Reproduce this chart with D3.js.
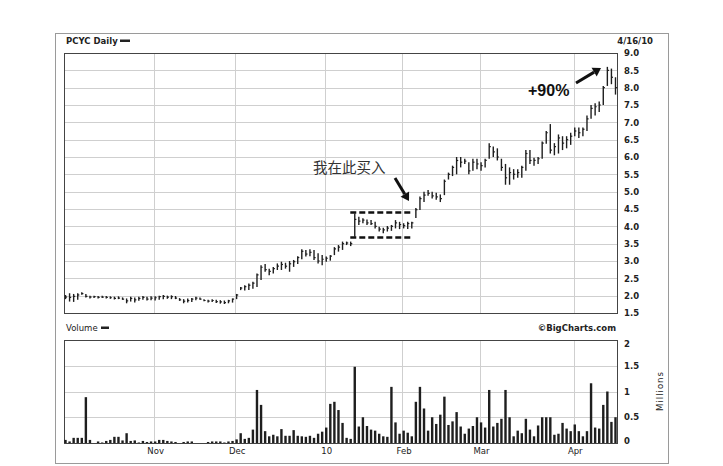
<!DOCTYPE html>
<html><head><meta charset="utf-8">
<script src="https://cdn.jsdelivr.net/npm/d3@7/dist/d3.min.js"></script>
<style>
html,body{margin:0;padding:0;background:#fff;}
svg{display:block;}
.lbl{font-family:"DejaVu Sans",sans-serif;font-weight:bold;font-size:8.5px;fill:#222;}
</style></head>
<body>
<svg id="c" width="723" height="466"></svg>
<script>
// ---- data (trading days Oct 1 2009 .. Apr 16 2010) ----
const highs = [2.02,2.07,2.05,2.07,2.10,2.05,2.00,2.00,1.99,2.00,1.99,1.98,1.97,1.98,1.95,1.92,1.97,1.95,1.97,1.99,1.97,1.98,
1.98,2.00,2.02,2.00,2.01,1.99,1.93,1.90,1.92,1.93,1.97,1.95,1.90,1.88,1.90,1.88,1.87,1.86,1.88,1.92,
2.05,2.25,2.30,2.35,2.40,2.64,2.88,2.91,2.78,2.83,2.93,2.98,2.95,3.00,3.03,3.14,3.34,3.32,3.34,3.32,3.22,3.17,
3.13,3.17,3.40,3.46,3.56,3.56,3.56,4.37,4.28,4.23,4.20,4.18,4.13,3.99,3.96,4.01,4.04,4.18,4.13,
4.09,4.13,4.13,4.53,4.86,5.00,5.05,5.00,4.97,4.92,5.35,5.55,5.75,6.00,6.00,5.95,5.85,5.95,5.95,
5.85,5.95,6.40,6.30,6.25,5.95,5.80,5.70,5.65,5.65,5.75,6.20,6.20,5.98,6.00,6.45,6.75,6.95,6.40,6.65,6.60,6.60,6.70,
6.85,6.85,6.85,7.20,7.50,7.55,7.60,8.05,8.60,8.55,8.30];
const lows = [1.90,1.83,1.82,1.88,2.03,1.95,1.92,1.93,1.92,1.93,1.92,1.91,1.89,1.90,1.88,1.78,1.83,1.80,1.85,1.88,1.86,1.87,
1.86,1.88,1.90,1.91,1.90,1.90,1.85,1.78,1.80,1.82,1.87,1.88,1.84,1.80,1.82,1.79,1.77,1.76,1.78,1.80,
1.90,2.16,2.15,2.16,2.20,2.25,2.45,2.69,2.59,2.64,2.74,2.74,2.78,2.69,2.83,2.91,3.05,3.13,3.14,3.03,2.93,2.88,
2.98,3.01,3.17,3.27,3.32,3.46,3.43,3.70,4.04,4.09,4.04,4.04,3.94,3.85,3.80,3.85,3.87,3.94,3.92,
3.94,3.92,3.94,4.24,4.47,4.70,4.88,4.80,4.77,4.70,4.90,5.35,5.45,5.50,5.70,5.80,5.50,5.60,5.65,
5.60,5.70,5.95,6.00,5.90,5.60,5.20,5.20,5.35,5.40,5.40,5.60,5.80,5.75,5.80,5.95,6.38,6.10,6.05,6.10,6.20,6.25,6.35,
6.60,6.55,6.60,6.75,7.10,7.20,7.30,7.50,8.05,8.10,7.80];
const closes = [1.96,1.95,1.98,2.02,2.06,1.98,1.96,1.97,1.95,1.96,1.95,1.94,1.92,1.93,1.90,1.85,1.92,1.88,1.92,1.95,1.90,1.93,
1.94,1.97,1.98,1.96,1.97,1.93,1.88,1.84,1.86,1.90,1.93,1.90,1.86,1.84,1.86,1.83,1.82,1.80,1.85,1.90,
2.02,2.22,2.26,2.30,2.36,2.60,2.82,2.75,2.70,2.78,2.85,2.90,2.85,2.92,2.98,3.10,3.28,3.20,3.25,3.10,3.00,3.05,
3.08,3.14,3.35,3.40,3.50,3.52,3.50,4.20,4.15,4.18,4.10,4.08,4.00,3.92,3.90,3.95,4.00,4.10,4.05,
4.02,4.08,4.10,4.48,4.80,4.90,4.95,4.88,4.85,4.80,5.30,5.50,5.70,5.90,5.85,5.88,5.60,5.85,5.80,
5.75,5.90,6.30,6.15,6.00,5.70,5.40,5.55,5.50,5.55,5.70,6.10,5.90,5.90,5.95,6.40,6.70,6.20,6.30,6.55,6.40,6.50,6.60,
6.75,6.70,6.80,7.10,7.40,7.45,7.50,8.00,8.50,8.30,8.00];
const volumes = [0.06,0.03,0.10,0.10,0.10,0.89,0.06,0.00,0.03,0.01,0.04,0.06,0.12,0.12,0.05,0.19,0.04,0.05,0.01,0.04,0.02,0.03,
0.03,0.06,0.06,0.04,0.03,0.02,0.00,0.02,0.03,0.03,0.00,0.00,0.00,0.02,0.03,0.03,0.03,0.01,0.03,0.04,
0.07,0.19,0.08,0.10,0.26,1.03,0.74,0.23,0.13,0.16,0.13,0.27,0.14,0.14,0.25,0.14,0.13,0.12,0.14,0.10,0.18,0.22,
0.30,0.76,0.80,0.64,0.39,0.10,0.08,1.48,0.32,0.50,0.33,0.26,0.24,0.18,0.13,0.12,1.09,0.40,0.18,
0.24,0.20,0.13,0.80,1.09,0.67,0.24,0.50,0.37,0.55,0.90,0.35,0.42,0.60,0.32,0.18,0.28,0.33,0.50,
0.40,0.30,1.03,0.32,0.39,0.47,1.03,0.50,0.13,0.24,0.19,0.47,0.26,0.13,0.34,0.50,0.50,0.50,0.16,0.18,0.39,0.28,0.23,
0.36,0.23,0.13,0.23,1.16,0.30,0.28,0.74,1.00,0.41,0.50];
const monthStarts = [22, 42, 64, 83, 102, 125];
const monthLabels = ["Nov", "Dec", "10", "Feb", "Mar", "Apr"];
const priceTicks = [1.5,2.0,2.5,3.0,3.5,4.0,4.5,5.0,5.5,6.0,6.5,7.0,7.5,8.0,8.5,9.0];
const volumeTicks = [0, 0.5, 1, 1.5, 2];
const buyBox = {start: 69.9, end: 85.0, top: 4.40, bottom: 3.68};

const svg = d3.select("#c");
const L = 64, R = 617;
const x = d3.scaleLinear().domain([0, 135]).range([65.5, 615.5]);
const yP = d3.scaleLinear().domain([1.5, 9]).range([313, 53]);
const yV = d3.scaleLinear().domain([0, 2]).range([443, 340]);
const days = d3.range(highs.length);

// outer frame
svg.append("rect").attr("x",55.5).attr("y",33.5).attr("width",613).attr("height",430)
  .attr("fill","none").attr("stroke","#9a9a9a").attr("stroke-width",1);

function panel(y, ticks, top, bottom) {
  const g = svg.append("g");
  g.selectAll("line.h").data(ticks).join("line")
    .attr("x1", L).attr("x2", R).attr("y1", d => Math.round(y(d))+0.5).attr("y2", d => Math.round(y(d))+0.5)
    .attr("stroke", "#cfcfcf").attr("stroke-width", 1);
  g.selectAll("line.v").data(monthStarts).join("line")
    .attr("x1", d => Math.round(x(d-0.3))+0.5).attr("x2", d => Math.round(x(d-0.3))+0.5)
    .attr("y1", top).attr("y2", bottom)
    .attr("stroke", "#cfcfcf").attr("stroke-width", 1);
  g.append("rect").attr("x", L+0.5).attr("y", top+0.5).attr("width", R-L).attr("height", bottom-top)
    .attr("fill", "none").attr("stroke", "#444").attr("stroke-width", 1);
}
panel(yP, priceTicks, 53, 313);
panel(yV, volumeTicks, 340, 443);

// price bars (high-low with close tick)
const pb = svg.append("g").attr("stroke", "#1e1e1e");
pb.selectAll("line.hl").data(days).join("line")
  .attr("x1", i => x(i)).attr("x2", i => x(i))
  .attr("y1", i => yP(highs[i])).attr("y2", i => yP(lows[i]) )
  .attr("stroke-width", 1.4);
pb.selectAll("line.cl").data(days).join("line")
  .attr("x1", i => x(i)).attr("x2", i => x(i)+1.6)
  .attr("y1", i => yP(closes[i])).attr("y2", i => yP(closes[i]))
  .attr("stroke-width", 1.2);

// volume bars
svg.append("g").selectAll("rect").data(days).join("rect")
  .attr("x", i => x(i)-1.2).attr("width", 2.4)
  .attr("y", i => yV(volumes[i])).attr("height", i => yV(0)-yV(volumes[i]))
  .attr("fill", "#1e1e1e");

// axes
const ayP = svg.append("g").attr("transform", `translate(${R+4},0)`)
  .call(d3.axisRight(yP).tickValues(priceTicks).tickFormat(d3.format(".1f")).tickSize(0));
const ayV = svg.append("g").attr("transform", `translate(${R+4},0)`)
  .call(d3.axisRight(yV).tickValues(volumeTicks).tickFormat(d => d3.format("")(d)).tickSize(0));
const ax = svg.append("g").attr("transform", `translate(0,443)`)
  .call(d3.axisBottom(x).tickValues(monthStarts).tickFormat((d,i) => monthLabels[i]).tickSize(0));
[ayP, ayV, ax].forEach(a => {
  a.select(".domain").remove();
  a.selectAll("text").attr("class","lbl").attr("font-family", null).attr("font-size", null).attr("fill", null);
});
ayV.selectAll("text").attr("dy", (d) => d === 2 ? "0.75em" : (d === 0 ? "0.1em" : "0.32em"));
ax.selectAll("text").attr("dy", "0.9em").style("font-weight","normal");

// titles
svg.append("text").attr("class","lbl").attr("x", 66).attr("y", 44).text("PCYC Daily");
svg.append("rect").attr("x", 120).attr("y", 39.5).attr("width", 10).attr("height", 2.5).attr("fill","#222");
svg.append("text").attr("class","lbl").attr("x", 653).attr("y", 44).attr("text-anchor","end").text("4/16/10");
svg.append("text").attr("class","lbl").attr("x", 66).attr("y", 331).style("font-weight","normal").text("Volume");
svg.append("rect").attr("x", 101).attr("y", 326.5).attr("width", 8).attr("height", 2.5).attr("fill","#222");
svg.append("text").attr("class","lbl").attr("x", 616).attr("y", 331).attr("text-anchor","end").text("\u00A9BigCharts.com");
svg.append("text").attr("class","lbl").attr("transform","translate(663,391) rotate(-90)")
  .attr("text-anchor","middle").style("font-weight","normal").style("letter-spacing","1px").text("Millions");

// annotations: dashed buy box
const ann = svg.append("g").attr("stroke","#111").attr("stroke-width",2.6).attr("stroke-dasharray","6,3");
ann.append("line").attr("x1", x(buyBox.start)).attr("x2", x(buyBox.end))
  .attr("y1", yP(buyBox.top)).attr("y2", yP(buyBox.top));
ann.append("line").attr("x1", x(buyBox.start)).attr("x2", x(buyBox.end))
  .attr("y1", yP(buyBox.bottom)).attr("y2", yP(buyBox.bottom));

svg.append("text").attr("x", 313).attr("y", 173)
  .attr("font-family","'Noto Sans CJK SC'").attr("font-size", 14.5).attr("fill","#333").text("我在此买入");

function arrow(x1, y1, x2, y2, w, hl, hw) {
  const a = Math.atan2(y2-y1, x2-x1);
  const bx = x2 - hl*Math.cos(a), by = y2 - hl*Math.sin(a);
  svg.append("line").attr("x1",x1).attr("y1",y1).attr("x2",bx).attr("y2",by)
    .attr("stroke","#111").attr("stroke-width",w);
  const px = -Math.sin(a)*hw, py = Math.cos(a)*hw;
  svg.append("path").attr("d", `M${x2},${y2}L${bx+px},${by+py}L${bx-px},${by-py}Z`).attr("fill","#111");
}
arrow(395, 178, 409, 201, 3, 8, 5);
svg.append("text").attr("x", 528).attr("y", 96).attr("font-family","'Liberation Sans',Arial,sans-serif")
  .attr("font-weight","bold").attr("font-size", 16).attr("fill","#111").text("+90%");
arrow(576, 83, 601, 68, 3, 8, 5);
</script>
</body></html>
